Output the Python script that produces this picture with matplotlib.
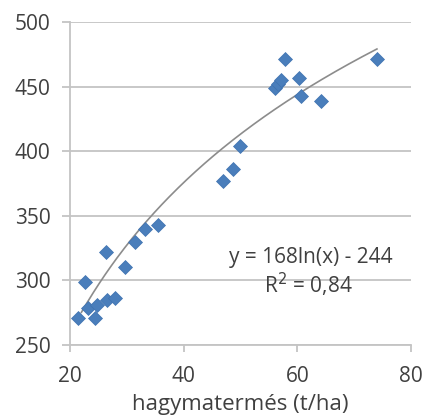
import numpy as np
import matplotlib.pyplot as plt

# hagymatermés (t/ha) vs. y
x_vals = [21.4, 22.6, 23.2, 24.4, 24.7, 26.3, 26.5, 27.9, 29.7, 31.4, 33.2, 35.5,
          46.9, 48.7, 49.9, 56.0, 56.6, 57.1, 57.9, 60.3, 60.7, 64.2, 74.1]
y_vals = [271, 299, 279, 271, 281, 322, 285, 286, 310, 330, 340, 343,
          377, 386, 404, 449, 452, 455, 471, 457, 443, 439, 471]

trend_a = 168
trend_b = -244
x_ticks = [20, 40, 60, 80]
y_ticks = [250, 300, 350, 400, 450, 500]

plt.rcParams['font.family'] = ['Open Sans', 'DejaVu Sans']

fig = plt.figure(figsize=(4.22, 4.19), dpi=100)
ax = fig.add_axes([0.166, 0.1766, 0.808, 0.771])

txt = '#404040'
grid = '#c4c4c4'

for yt in y_ticks:
    ax.axhline(yt, color=grid, lw=1.3, zorder=0)

ax.plot(x_vals, y_vals, 'D', color='#4a7ebb', ms=7, mec='#3f72b0', mew=0.5, zorder=3)

xt = np.linspace(22, 74, 200)
ax.plot(xt, trend_a * np.log(xt) + trend_b, color='#8c8c8c', lw=1.2, zorder=2)

ax.set_xlim(20, 80)
ax.set_ylim(250, 500)
ax.set_xticks(x_ticks)
ax.set_yticks(y_ticks)

for s in ['top', 'right']:
    ax.spines[s].set_visible(False)
ax.spines['left'].set_color(grid)
ax.spines['bottom'].set_color(grid)
ax.spines['left'].set_linewidth(1.3)
ax.spines['bottom'].set_linewidth(1.3)

ax.tick_params(axis='y', length=6, color=grid, width=1.3, pad=8, labelsize=15, labelcolor=txt)
ax.tick_params(axis='x', length=5, color=grid, width=1.3, pad=10, labelsize=15, labelcolor=txt)

ax.set_xlabel('hagymatermés (t/ha)', fontsize=16, color=txt, labelpad=5)

ax.text(0.705, 0.27, 'y = 168ln(x) - 244', transform=ax.transAxes,
        ha='center', va='center', fontsize=15, color=txt)
ax.text(0.70, 0.187, 'R$^2$ = 0,84', transform=ax.transAxes,
        ha='center', va='center', fontsize=15, color=txt)

fig.savefig('out.png', dpi=100)
